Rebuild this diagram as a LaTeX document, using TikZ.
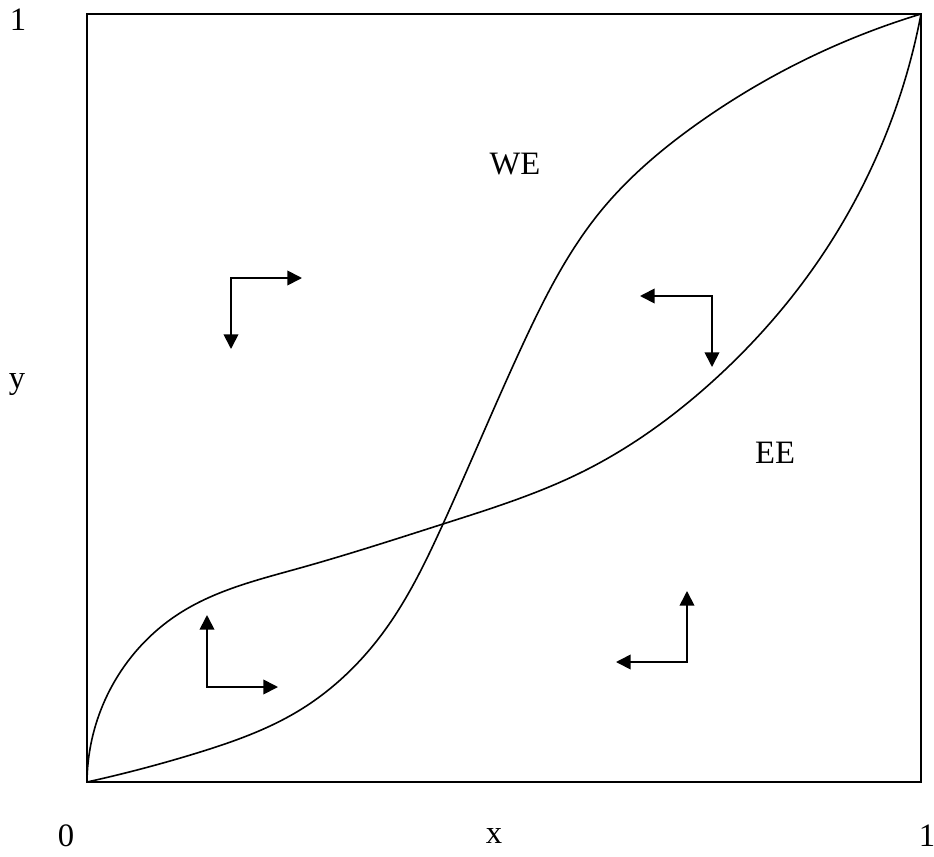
\documentclass[tikz,border=0pt]{standalone}
\usepackage{fontspec}
\setmainfont{Liberation Serif}
\usetikzlibrary{arrows.meta, hobby}

\begin{document}
\begin{tikzpicture}[
    x=0.75pt, y=-0.75pt,
    frame/.style={draw, line width=1.5pt},
    curve/.style={line width=1.2pt, use Hobby shortcut},
    flow/.style={{Triangle[length=11pt, width=11pt]}-{Triangle[length=11pt, width=11pt]}, line width=1.3pt},
    label/.style={font=\fontsize{24.5}{28}\selectfont, inner sep=0pt}
]
\useasboundingbox (0,0) rectangle (934,856);
% Corners of the unit square
\coordinate (O) at (87,782);
\coordinate (A) at (921,14);
\draw[frame] (O) rectangle (A);

% Axis labels
\node[label] (one1) at (18,20) {1};
\node[label] (ylab) at (17,385) {y};
\node[label] (zero) at (66,836) {0};
\node[label] (xlab) at (494,836) {x};
\node[label] (one2) at (927,836) {1};

% Region labels
\node[label] (we) at (515,164) {WE};
\node[label] (ee) at (775,453) {EE};

% Crossing point of the two curves
\coordinate (P) at (443,524);

% Steep curve
\draw[curve] (O) .. (197,753) .. (300,710) .. (385,630) .. (P)
    .. (523,344) .. (600,212) .. (697,124) .. (A);
% Flat curve
\draw[curve] (O) .. (105,700) .. (180,613) .. (300,568) .. (P)
    .. (580,473) .. (713,381) .. (823,254) .. (A);

% Direction arrows
\coordinate (c1) at (231,278);
\coordinate (c1a) at (302,278);
\coordinate (c1b) at (231,349);
\draw[flow] (c1a) -- (c1) -- (c1b);

\coordinate (c2) at (712,296);
\coordinate (c2a) at (640,296);
\coordinate (c2b) at (712,367);
\draw[flow] (c2a) -- (c2) -- (c2b);

\coordinate (c3) at (207,687);
\coordinate (c3a) at (207,615);
\coordinate (c3b) at (278,687);
\draw[flow] (c3a) -- (c3) -- (c3b);

\coordinate (c4) at (687,662);
\coordinate (c4a) at (687,591);
\coordinate (c4b) at (616,662);
\draw[flow] (c4a) -- (c4) -- (c4b);
\end{tikzpicture}
\end{document}
